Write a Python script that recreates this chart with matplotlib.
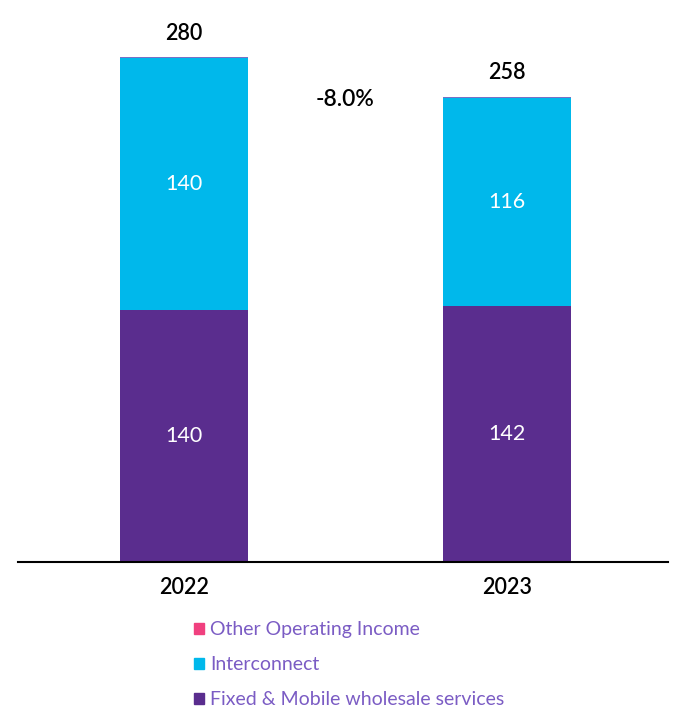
import numpy as np
import matplotlib.pyplot as plt
from matplotlib.patches import Patch

years = ["2022", "2023"]
fixed_mobile = [140, 142]
interconnect = [140, 116]
other_income = [0.6, 0.6]
totals = [280, 258]
change_label = "-8.0%"

purple = "#5a2d8e"
cyan = "#00b8eb"
pink = "#f0407f"
legend_text = "#7b5cc4"

plt.rcParams['font.family'] = ['Lato', 'DejaVu Sans']

fig = plt.figure(figsize=(6.92, 7.24), dpi=100)
ax = fig.add_axes([0.026, 0.2238, 0.939, 0.7458])

x = np.arange(len(years))
w = 0.396
fixed_mobile = np.array(fixed_mobile)
interconnect = np.array(interconnect)
other_income = np.array(other_income)

ax.bar(x, fixed_mobile, w, color=purple, linewidth=0)
ax.bar(x, interconnect, w, bottom=fixed_mobile, color=cyan, linewidth=0)
ax.bar(x, other_income, w, bottom=fixed_mobile + interconnect, color="#7a70c4", linewidth=0)

# values inside the bars
for i in range(len(years)):
    ax.text(x[i], fixed_mobile[i] / 2, str(fixed_mobile[i]), ha='center', va='center',
            color='white', fontsize=15.5)
    ax.text(x[i], fixed_mobile[i] + interconnect[i] / 2, str(interconnect[i]), ha='center',
            va='center', color='white', fontsize=15.5)
    ax.text(x[i], totals[i] + 8, str(totals[i]), ha='center', va='bottom',
            color='black', fontsize=15.5, fontweight='semibold')

ax.text(0.5, 257, change_label, ha='center', va='center', fontsize=16.5,
        fontweight='semibold', color='black')

ax.set_xlim(-0.514, 1.498)
ax.set_ylim(0, 300)
ax.set_xticks(x)
ax.set_xticklabels(years, fontsize=15.5, fontweight='semibold')
ax.tick_params(axis='x', length=0, pad=11)
ax.set_yticks([])
for s in ['top', 'right', 'left']:
    ax.spines[s].set_visible(False)
ax.spines['bottom'].set_linewidth(1.5)

handles = [Patch(color=pink, label="Other Operating Income"),
           Patch(color=cyan, label="Interconnect"),
           Patch(color=purple, label="Fixed & Mobile wholesale services")]
leg = fig.legend(handles=handles, loc='upper left', bbox_to_anchor=(176 / 692, 1 - 604 / 724),
                 frameon=False, fontsize=14, handlelength=0.55, handleheight=0.55,
                 handletextpad=0.3, labelspacing=0.92)
for t in leg.get_texts():
    t.set_color(legend_text)

plt.savefig('out.png')
